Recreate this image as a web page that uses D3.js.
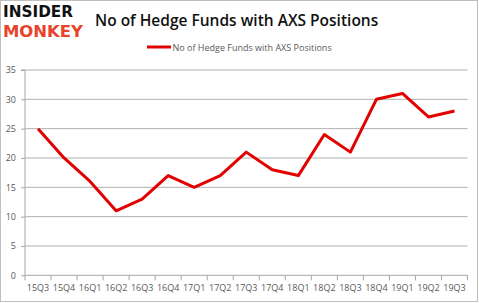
<!DOCTYPE html>
<html><head><meta charset="utf-8">
<script src="https://cdn.jsdelivr.net/npm/d3@7"></script>
<style>html,body{margin:0;padding:0;background:#fff;}svg{display:block;}</style>
</head><body>
<script>
const categories = ["15Q3","15Q4","16Q1","16Q2","16Q3","16Q4","17Q1","17Q2","17Q3","17Q4","18Q1","18Q2","18Q3","18Q4","19Q1","19Q2","19Q3"];
const values = [25,20,16,11,13,17,15,17,21,18,17,24,21,30,31,27,28];
const yTicks = [0,5,10,15,20,25,30,35];
const seriesName = "No of Hedge Funds with AXS Positions";
const titleText = "No of Hedge Funds with AXS Positions";

(function(){
const W = 479, H = 303;
const svg = d3.select("body").append("svg").attr("width", W).attr("height", H);
svg.append("rect").attr("x",0.5).attr("y",0.5).attr("width",W-2).attr("height",H-2)
  .attr("fill","#fff").attr("stroke","#bfbfbf");

const pl = 25, pr = 467.5, pt = 70, pb = 275.3;
const x = d3.scaleBand().domain(categories).range([pl, pr]);
const y = d3.scaleLinear().domain([0,35]).range([pb, pt]);

// gridlines
svg.append("g").selectAll("line").data(yTicks.filter(d=>d>0)).join("line")
  .attr("x1", pl).attr("x2", pr).attr("y1", d=>y(d)).attr("y2", d=>y(d))
  .attr("stroke","#b0b0b0").attr("stroke-width",1);

// y axis
const yAxis = d3.axisLeft(y).tickValues(yTicks).tickSize(4).tickPadding(5);
const gy = svg.append("g").attr("transform",`translate(${pl},0)`).call(yAxis);
gy.select(".domain").attr("stroke","#a6a6a6").attr("d",`M-4,${pt}H0V${pb}`);
gy.selectAll(".tick line").attr("stroke","#a6a6a6");
gy.selectAll("text").attr("fill","#595959").style("font-family","'Open Sans', sans-serif").style("font-size","9px");

// x axis
const xAxis = d3.axisBottom(x).tickSize(0).tickPadding(9);
const gx = svg.append("g").attr("transform",`translate(0,${pb})`).call(xAxis);
gx.select(".domain").attr("stroke","#a6a6a6").attr("d",`M${pl},0H${pr}`);
gx.selectAll("text").attr("fill","#595959").style("font-family","'Open Sans', sans-serif").style("font-size","9px");
const bounds = categories.map(c=>x(c)).concat([pr]);
svg.append("g").selectAll("line").data(bounds).join("line")
  .attr("x1",d=>d).attr("x2",d=>d).attr("y1",pb).attr("y2",pb+5)
  .attr("stroke","#a6a6a6");

// line
const line = d3.line().x((d,i)=>x(categories[i]) + x.bandwidth()/2).y(d=>y(d));
svg.append("path").datum(values).attr("d", line).attr("fill","none")
  .attr("stroke","#e30000").attr("stroke-width",3).attr("stroke-linejoin","round");

// title
svg.append("text").attr("x", 95).attr("y", 26).text(titleText)
  .attr("fill","#111").style("font-family","'Open Sans', sans-serif").style("font-size","15.5px").style("font-weight","600");

// legend
svg.append("line").attr("x1",147).attr("x2",171).attr("y1",47).attr("y2",47)
  .attr("stroke","#e30000").attr("stroke-width",3);
svg.append("text").attr("x",172.5).attr("y",50.5).text(seriesName)
  .attr("fill","#595959").style("font-family","'Open Sans', sans-serif").style("font-size","9px");

// logo
svg.append("text").attr("x",3).attr("y",17).text("INSIDER")
  .attr("fill","#111").style("font-family","'DejaVu Sans', sans-serif").style("font-weight","bold")
  .style("font-size","15px").attr("textLength",70).attr("lengthAdjust","spacingAndGlyphs");
svg.append("text").attr("x",3).attr("y",37).text("MONKEY")
  .attr("fill","#e8432b").style("font-family","'DejaVu Sans', sans-serif").style("font-weight","bold")
  .style("font-size","16px").attr("textLength",80).attr("lengthAdjust","spacingAndGlyphs");
})();
</script>
</body></html>
